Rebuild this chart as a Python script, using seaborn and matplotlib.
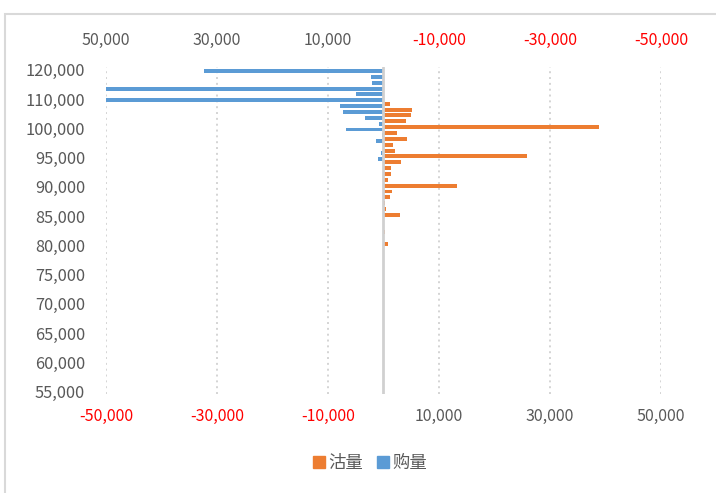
import matplotlib
matplotlib.use("Agg")
import matplotlib.pyplot as plt
import seaborn as sns
import pandas as pd
import numpy as np
from matplotlib.patches import Patch, Rectangle

# price levels, top to bottom (category axis, step changes at 100,000)
prices = [120000, 118000, 116000, 114000, 112000, 110000, 108000, 106000, 104000, 102000,
          100000, 99000, 98000, 97000, 96000, 95000, 94000, 93000, 92000, 91000,
          90000, 89000, 88000, 87000, 86000, 85000, 84000, 83000, 82000, 81000,
          80000, 79000, 78000, 77000, 76000, 75000, 74000, 73000, 72000, 71000,
          70000, 69000, 68000, 67000, 66000, 65000, 64000, 63000, 62000, 61000,
          60000, 59000, 58000, 57000, 56000, 55000]

# 沽量 (sell volume), same order as prices
sell = [0, 0, 0, 0, 0, 0, 1200, 5100, 5000, 4100,
        38800, 2400, 4200, 1700, 2100, 25800, 3100, 1300, 1400, 900,
        13300, 1500, 1200, 300, 500, 2900, 150, 0, 300, 100,
        800, 0, 0, 0, 0, 100, 0, 0, 0, 0,
        0, 0, 0, 0, 0, 0, 0, 0, 0, 0,
        0, 0, 0, 0, 0, 0]

# 购量 (buy volume), same order as prices
buy = [32400, 2300, 2100, 52000, 4900, 52000, 7900, 7300, 3400, 850,
       6800, 300, 1400, 0, 400, 1000, 0, 0, 0, 0,
       0, 0, 0, 0, 0, 0, 0, 0, 0, 0,
       0, 0, 0, 0, 0, 0, 0, 0, 0, 0,
       0, 0, 0, 0, 0, 0, 0, 0, 0, 0,
       0, 0, 0, 0, 0, 0]

xticks = [-50000, -30000, -10000, 10000, 30000, 50000]

ORANGE = "#ED7D31"
BLUE = "#5B9BD5"
GREY = "#595959"

sns.set_style("white")
plt.rcParams["font.family"] = ["Noto Sans CJK SC", "DejaVu Sans"]

n = len(prices)
pos = np.arange(n)[::-1]  # bottom category at 0

df_sell = pd.DataFrame({"pos": pos + 0.2, "val": sell})
df_buy = pd.DataFrame({"pos": pos - 0.2, "val": [-v for v in buy]})

fig = plt.figure(figsize=(7.16, 4.93), dpi=100)
ax = fig.add_axes([0.148, 0.1998, 0.7752, 0.6645])

sns.barplot(data=df_sell, x="val", y="pos", orient="y", native_scale=True,
            width=0.68, color=ORANGE, saturation=1, linewidth=0,
            edgecolor="none", ax=ax)
sns.barplot(data=df_buy, x="val", y="pos", orient="y", native_scale=True,
            width=0.68, color=BLUE, saturation=1, linewidth=0,
            edgecolor="none", ax=ax)

ax.set_xlim(-50000, 50000)
ax.set_ylim(-0.5, n - 0.5)
ax.set_xlabel("")
ax.set_ylabel("")

for s in ax.spines.values():
    s.set_visible(False)

# dotted vertical gridlines + category axis at zero
for t in xticks:
    ax.axvline(t, color="#d4d4d4", lw=1.4, ls=(0, (1, 2)), zorder=0)
ax.axvline(0, color="#d0d0d0", lw=2, zorder=3)

def fmt(v):
    return "{:,.0f}".format(v)

ax.set_xticks(xticks)
ax.set_xticklabels([fmt(v) for v in xticks])
for lab, v in zip(ax.get_xticklabels(), xticks):
    lab.set_color("red" if v < 0 else GREY)
ax.tick_params(axis="x", length=0, pad=10, labelsize=11.5)

ylab_idx = list(range(0, n, 5))
ax.set_yticks([pos[i] for i in ylab_idx])
ax.set_yticklabels([fmt(prices[i]) for i in ylab_idx])
ax.tick_params(axis="y", length=0, pad=15, labelsize=11.8, labelcolor=GREY)

# top axis shows the mirrored scale
top = ax.secondary_xaxis("top", functions=(lambda x: -x, lambda x: -x))
top_ticks = [50000, 30000, 10000, -10000, -30000, -50000]
top.set_xticks(top_ticks)
top.set_xticklabels([fmt(v) for v in top_ticks])
for lab, v in zip(top.get_xticklabels(), top_ticks):
    lab.set_color("red" if v < 0 else GREY)
top.tick_params(axis="x", length=0, pad=13, labelsize=11.5)
for s in top.spines.values():
    s.set_visible(False)

handles = [Patch(color=ORANGE, label="沽量"), Patch(color=BLUE, label="购量")]
leg = fig.legend(handles=handles, loc="center", bbox_to_anchor=(0.517, 0.06),
                 ncol=2, frameon=False, handlelength=0.7, handleheight=0.7,
                 handletextpad=0.2, columnspacing=0.8, fontsize=12.5)
for t in leg.get_texts():
    t.set_color(GREY)

fig.patches.append(Rectangle((5 / 716, -0.05), 1.1, 1 - 14 / 493 + 0.05,
                             transform=fig.transFigure, fill=False,
                             ec="#d9d9d9", lw=1.5))

fig.savefig("out.png", dpi=100)
